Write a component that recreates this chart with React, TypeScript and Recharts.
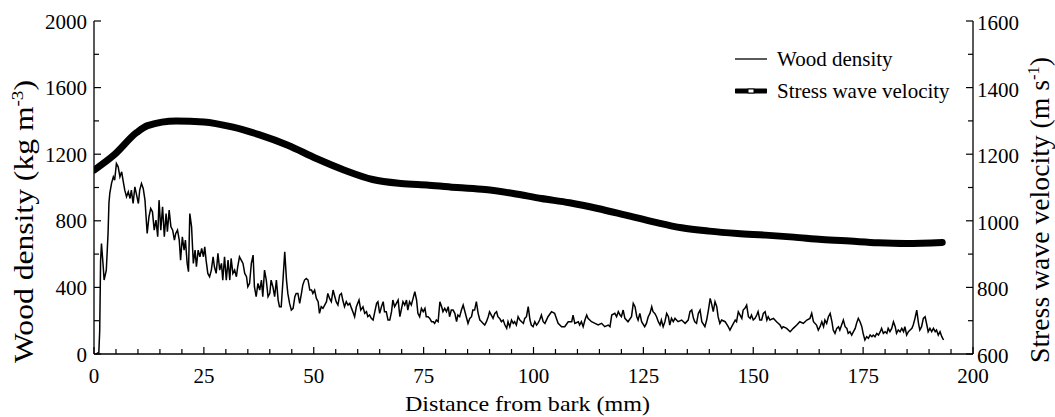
import React from 'react';
import { LineChart, Line, XAxis, YAxis, Legend } from 'recharts';

const FONT = "'Liberation Serif', 'Times New Roman', Times, serif";

// Distance from bark (mm) for the wood density trace
const distanceDensity = [
  0.5, 1.1, 1.3, 1.5, 1.7, 2.1, 2.3, 2.8, 3.2, 3.4, 3.6, 4.0, 4.4, 4.7, 5.1, 5.5, 5.9, 6.3, 6.6, 7.0,
  7.4, 7.8, 8.2, 8.5, 8.9, 9.3, 9.7, 10.1, 10.4, 10.8, 11.2, 11.6, 11.8, 12.1, 12.5, 12.9, 13.3, 13.7, 14.1, 14.5,
  14.8, 15.2, 15.6, 16.0, 16.4, 16.7, 17.1, 17.5, 17.9, 18.3, 18.6, 19.0, 19.4, 19.7, 20.1, 20.5, 20.8, 21.2, 21.5, 21.8,
  22.2, 22.6, 23.0, 23.3, 23.7, 24.1, 24.5, 24.9, 25.2, 25.5, 25.9, 26.3, 26.7, 27.1, 27.4, 27.8, 28.2, 28.6, 29.0, 29.3,
  29.7, 30.1, 30.5, 30.9, 31.2, 31.6, 32.0, 32.4, 32.7, 33.1, 33.5, 33.9, 34.3, 34.7, 35.0, 35.4, 35.8, 36.2, 36.5, 36.9,
  37.3, 37.7, 38.1, 38.4, 38.8, 39.2, 39.6, 40.0, 40.3, 40.7, 41.1, 41.5, 41.9, 42.2, 42.6, 43.0, 43.4, 43.8, 44.1, 44.5,
  44.9, 45.3, 45.7, 46.0, 46.4, 46.8, 47.2, 47.5, 47.9, 48.3, 48.7, 49.1, 49.5, 49.8, 50.2, 50.6, 51.0, 51.3, 51.7, 52.1,
  52.9, 53.2, 53.6, 54.0, 54.4, 54.8, 55.1, 55.5, 55.9, 56.3, 56.6, 57.0, 57.4, 57.8, 58.2, 58.6, 58.9, 59.3, 59.7, 60.3,
  60.7, 61.2, 61.6, 62.0, 62.3, 62.7, 63.1, 63.5, 63.9, 64.3, 64.6, 65.0, 65.4, 65.8, 66.1, 66.5, 66.9, 67.3, 67.7, 68.0,
  68.4, 68.8, 69.2, 69.6, 69.9, 70.3, 70.7, 71.1, 71.4, 71.8, 72.2, 72.6, 73.0, 73.4, 73.7, 74.1, 74.5, 74.9, 75.3, 75.6,
  76.0, 76.4, 76.8, 77.2, 77.5, 77.9, 78.3, 78.7, 79.1, 79.4, 79.8, 80.2, 80.6, 80.9, 81.3, 81.7, 82.1, 82.5, 82.8, 83.2,
  83.6, 84.0, 84.4, 84.7, 85.1, 85.5, 85.9, 86.2, 86.6, 87.0, 87.4, 87.8, 88.2, 88.5, 88.9, 89.3, 89.7, 90.0, 90.4, 90.8,
  91.2, 91.6, 91.9, 92.3, 92.7, 93.1, 93.5, 93.9, 94.2, 94.6, 95.0, 95.4, 95.7, 96.1, 96.5, 96.9, 97.3, 97.7, 98.0, 98.4,
  98.8, 99.2, 99.5, 99.9, 100.3, 100.7, 101.0, 101.4, 101.8, 102.2, 102.6, 103.3, 104.1, 104.8, 105.6, 106.4, 107.1, 107.9, 108.7, 109.0,
  109.4, 110.2, 110.5, 110.9, 111.3, 111.7, 112.1, 112.4, 113.2, 114.0, 114.7, 115.5, 116.2, 117.0, 117.4, 117.8, 118.5, 118.9, 119.3, 119.7,
  120.0, 120.4, 120.8, 121.5, 122.3, 122.7, 123.1, 123.5, 123.8, 124.2, 124.6, 125.3, 125.7, 126.1, 126.5, 126.9, 127.2, 127.6, 128.0, 128.4,
  128.8, 129.1, 129.5, 129.9, 130.3, 130.7, 131.0, 131.4, 131.8, 132.2, 132.9, 133.7, 134.5, 135.2, 135.6, 136.0, 136.4, 136.7, 137.1, 137.5,
  137.9, 138.3, 139.0, 139.4, 139.8, 140.2, 140.5, 140.9, 141.3, 141.7, 142.0, 142.4, 142.8, 143.6, 144.3, 144.7, 145.1, 145.5, 145.9, 146.2,
  146.6, 147.0, 147.4, 147.7, 148.1, 148.5, 148.9, 149.3, 149.6, 150.0, 150.4, 150.8, 151.1, 151.5, 151.9, 152.3, 152.7, 153.1, 153.4, 153.8,
  154.6, 155.3, 156.1, 156.5, 156.8, 157.6, 158.4, 159.1, 159.9, 160.6, 161.4, 162.2, 162.9, 163.3, 163.7, 164.4, 164.8, 165.2, 165.6, 166.0,
  166.3, 166.7, 167.1, 167.5, 167.9, 168.2, 168.6, 169.0, 169.4, 169.7, 170.1, 170.5, 170.9, 171.3, 171.6, 172.0, 172.4, 172.8, 173.2, 173.5,
  173.9, 174.3, 174.7, 175.0, 175.4, 175.8, 176.2, 176.6, 177.0, 177.3, 177.7, 178.1, 178.5, 178.9, 179.2, 179.6, 180.0, 180.4, 180.7, 181.1,
  181.5, 181.9, 182.3, 182.6, 183.0, 183.4, 183.8, 184.2, 184.5, 184.9, 185.3, 185.7, 186.1, 186.4, 186.8, 187.2, 187.6, 187.9, 188.3, 188.7,
  189.1, 189.5, 189.8, 190.2, 190.6, 191.0, 191.4, 191.7, 192.1, 192.5, 192.9, 193.3,
];

// Wood density (kg m-3)
const woodDensity = [
  0, 10, 140, 560, 664, 524, 444, 504, 726, 906, 966, 1026, 1064, 1044, 1144, 1124, 1064, 1094, 1044, 984,
  944, 974, 934, 984, 904, 1004, 954, 904, 984, 1024, 994, 924, 844, 724, 824, 874, 854, 744, 804, 704,
  924, 744, 884, 704, 844, 734, 864, 764, 744, 684, 724, 744, 684, 564, 704, 624, 684, 544, 494, 844,
  764, 544, 624, 524, 624, 584, 634, 584, 644, 564, 484, 464, 504, 584, 524, 484, 604, 504, 544, 444,
  584, 444, 564, 444, 574, 484, 504, 464, 524, 584, 564, 544, 484, 464, 404, 424, 544, 594, 404, 344,
  424, 384, 444, 344, 504, 444, 344, 364, 444, 404, 344, 444, 324, 284, 284, 444, 614, 444, 364, 304,
  264, 274, 344, 364, 364, 304, 364, 414, 444, 454, 444, 384, 384, 364, 384, 334, 314, 244, 284, 274,
  314, 364, 334, 314, 384, 344, 314, 294, 354, 364, 324, 284, 314, 294, 304, 274, 254, 224, 284, 324,
  264, 284, 244, 254, 224, 234, 214, 204, 254, 304, 314, 244, 284, 314, 254, 254, 204, 204, 254, 324,
  284, 304, 324, 224, 264, 314, 294, 324, 264, 314, 294, 334, 374, 324, 244, 224, 274, 254, 274, 224,
  224, 214, 194, 194, 184, 204, 194, 314, 284, 254, 274, 254, 284, 224, 264, 264, 244, 194, 234, 224,
  264, 294, 254, 224, 184, 214, 224, 264, 264, 314, 244, 204, 194, 184, 174, 194, 224, 254, 234, 214,
  244, 254, 224, 214, 194, 204, 174, 154, 194, 164, 204, 184, 194, 174, 224, 204, 194, 184, 214, 224,
  284, 204, 174, 164, 194, 174, 184, 204, 234, 194, 184, 224, 254, 244, 184, 164, 164, 194, 194, 234,
  184, 194, 174, 194, 164, 204, 234, 214, 194, 184, 174, 184, 164, 174, 164, 234, 244, 224, 254, 234,
  224, 264, 214, 194, 224, 304, 284, 224, 204, 244, 194, 164, 184, 224, 244, 284, 254, 244, 224, 194,
  174, 204, 164, 194, 244, 224, 174, 214, 194, 214, 194, 204, 184, 204, 254, 264, 214, 194, 184, 244,
  264, 194, 164, 204, 264, 334, 304, 254, 314, 284, 224, 184, 204, 194, 164, 144, 164, 184, 204, 194,
  254, 234, 214, 264, 274, 294, 224, 214, 234, 204, 214, 234, 254, 204, 204, 244, 254, 204, 224, 204,
  214, 194, 174, 154, 164, 154, 134, 154, 174, 194, 184, 204, 214, 244, 194, 174, 144, 164, 194, 164,
  204, 184, 224, 244, 194, 144, 124, 154, 164, 144, 174, 204, 164, 154, 124, 134, 114, 134, 154, 184,
  214, 194, 164, 124, 84, 104, 94, 114, 104, 114, 104, 124, 114, 134, 154, 124, 134, 124, 154, 134,
  154, 194, 164, 124, 144, 134, 154, 134, 164, 114, 134, 144, 154, 174, 214, 264, 184, 144, 164, 214,
  224, 174, 134, 154, 134, 154, 134, 144, 114, 134, 104, 84,
];

// Distance from bark (mm) for the stress wave velocity curve
const distanceVelocity = [
  0, 4.5, 9.7, 12.2, 18.7, 25, 31.4, 37.7, 44.1, 50.6, 57, 63.4, 69.8, 76.2, 82.6, 89,
  95.4, 101.8, 108.2, 114.6, 121, 127.3, 133.7, 140, 146.4, 152.8, 159.2, 165.6, 172, 178.4, 184.8, 193,
];

// Stress wave velocity (m s-1)
const waveVelocity = [
  1152, 1197, 1265, 1286, 1300, 1297, 1282, 1258, 1227, 1187, 1152, 1124, 1112, 1107, 1100, 1094,
  1082, 1067, 1054, 1037, 1017, 997, 979, 969, 962, 957, 951, 944, 939, 934, 932, 935,
];

const xTicks = [0, 5, 10, 15, 20, 25, 30, 35, 40, 45, 50, 55, 60, 65, 70, 75, 80, 85, 90, 95, 100,
  105, 110, 115, 120, 125, 130, 135, 140, 145, 150, 155, 160, 165, 170, 175, 180, 185, 190, 195, 200];
const leftTicks = [0, 200, 400, 600, 800, 1000, 1200, 1400, 1600, 1800, 2000];
const rightTicks = [600, 700, 800, 900, 1000, 1100, 1200, 1300, 1400, 1500, 1600];

const densityData = distanceDensity.map((x, i) => ({ x, density: woodDensity[i] }));
const velocityData = distanceVelocity.map((x, i) => ({ x, velocity: waveVelocity[i] }));

const XTick = (props: any) => {
  const { x, y, payload } = props;
  const v = payload.value;
  const major = v % 25 === 0;
  return (
    <g>
      <line x1={x} x2={x} y1={y} y2={y - (major ? 7 : 5)} stroke="#000" strokeWidth={1.2} />
      {major && (
        <text x={x} y={y + 29} textAnchor="middle" fontSize={21} fontFamily={FONT} fill="#000">
          {v}
        </text>
      )}
    </g>
  );
};

const LeftTick = (props: any) => {
  const { x, y, payload } = props;
  const v = payload.value;
  const major = v % 400 === 0;
  return (
    <g>
      <line x1={x} x2={x + (major ? 7 : 5)} y1={y} y2={y} stroke="#000" strokeWidth={1.2} />
      {major && (
        <text x={x - 7} y={y + 7.5} textAnchor="end" fontSize={21} fontFamily={FONT} fill="#000">
          {v}
        </text>
      )}
    </g>
  );
};

const RightTick = (props: any) => {
  const { x, y, payload } = props;
  const v = payload.value;
  const major = v % 200 === 0;
  return (
    <g>
      <line x1={x} x2={x - (major ? 7 : 5)} y1={y} y2={y} stroke="#000" strokeWidth={1.2} />
      {major && (
        <text x={x + 4} y={y + 9} textAnchor="start" fontSize={21} fontFamily={FONT} fill="#000">
          {v}
        </text>
      )}
    </g>
  );
};

const XTitle = () => (
  <text x={527.5} y={411} textAnchor="middle" fontSize={22} fontFamily={FONT} fill="#000"
    textLength={245} lengthAdjust="spacingAndGlyphs">
    Distance from bark (mm)
  </text>
);

const LeftTitle = () => (
  <text transform="translate(33,221.5) rotate(-90)" x={0} y={0} textAnchor="middle" fontSize={28}
    fontFamily={FONT} fill="#000" textLength={283} lengthAdjust="spacingAndGlyphs">
    Wood density (kg m<tspan dy={-10} fontSize={17}>-3</tspan><tspan dy={10}>)</tspan>
  </text>
);

const RightTitle = () => (
  <text transform="translate(1049,210) rotate(-90)" x={0} y={0} textAnchor="middle" fontSize={27}
    fontFamily={FONT} fill="#000" textLength={306} lengthAdjust="spacingAndGlyphs">
    Stress wave velocity (m s<tspan dy={-10} fontSize={16}>-1</tspan><tspan dy={10}>)</tspan>
  </text>
);

const renderLegend = () => (
  <div style={{ fontFamily: FONT, fontSize: 21, color: '#000' }}>
    <div style={{ display: 'flex', alignItems: 'center', height: 32 }}>
      <svg width={32} height={12} style={{ marginRight: 10 }}>
        <line x1={0} x2={32} y1={6} y2={6} stroke="#000" strokeWidth={1.3} />
      </svg>
      <span>Wood density</span>
    </div>
    <div style={{ display: 'flex', alignItems: 'center', height: 32 }}>
      <svg width={32} height={12} style={{ marginRight: 10 }}>
        <line x1={1} x2={31} y1={6} y2={6} stroke="#000" strokeWidth={5} strokeLinecap="round" />
        <rect x={13} y={4} width={6} height={4} fill="#fff" stroke="#000" strokeWidth={1} />
      </svg>
      <span>Stress wave velocity</span>
    </div>
  </div>
);

export default function App() {
  return (
    <div style={{ position: 'absolute', left: 0, top: 0, width: 1055, height: 417, background: '#fff' }}>
      <LineChart width={1055} height={417} margin={{ top: 21, right: 81, bottom: 62, left: 93 }}>
        <XAxis
          xAxisId={0}
          type="number"
          dataKey="x"
          domain={[0, 200]}
          ticks={xTicks}
          interval={0}
          allowDataOverflow
          height={1}
          tickSize={0}
          tickMargin={0}
          tickLine={false}
          tick={<XTick />}
          axisLine={{ stroke: '#000', strokeWidth: 1.3 }}
          label={<XTitle />}
        />
        <YAxis
          yAxisId="left"
          type="number"
          domain={[0, 2000]}
          ticks={leftTicks}
          interval={0}
          width={1}
          tickSize={0}
          tickMargin={0}
          tickLine={false}
          tick={<LeftTick />}
          axisLine={{ stroke: '#000', strokeWidth: 1.3 }}
          label={<LeftTitle />}
        />
        <YAxis
          yAxisId="right"
          orientation="right"
          type="number"
          domain={[600, 1600]}
          ticks={rightTicks}
          interval={0}
          width={1}
          tickSize={0}
          tickMargin={0}
          tickLine={false}
          tick={<RightTick />}
          axisLine={{ stroke: '#000', strokeWidth: 1.3 }}
          label={<RightTitle />}
        />
        <Legend
          layout="vertical"
          align="center"
          verticalAlign="middle"
          content={renderLegend}
          wrapperStyle={{ top: 43, left: 735, width: 240 }}
        />
        <Line
          yAxisId="left"
          data={densityData}
          dataKey="density"
          type="linear"
          stroke="#000"
          strokeWidth={1.5}
          dot={false}
          isAnimationActive={false}
          name="Wood density"
        />
        <Line
          yAxisId="right"
          data={velocityData}
          dataKey="velocity"
          type="monotone"
          stroke="#000"
          strokeWidth={7}
          strokeLinecap="round"
          dot={false}
          isAnimationActive={false}
          name="Stress wave velocity"
        />
      </LineChart>
    </div>
  );
}
